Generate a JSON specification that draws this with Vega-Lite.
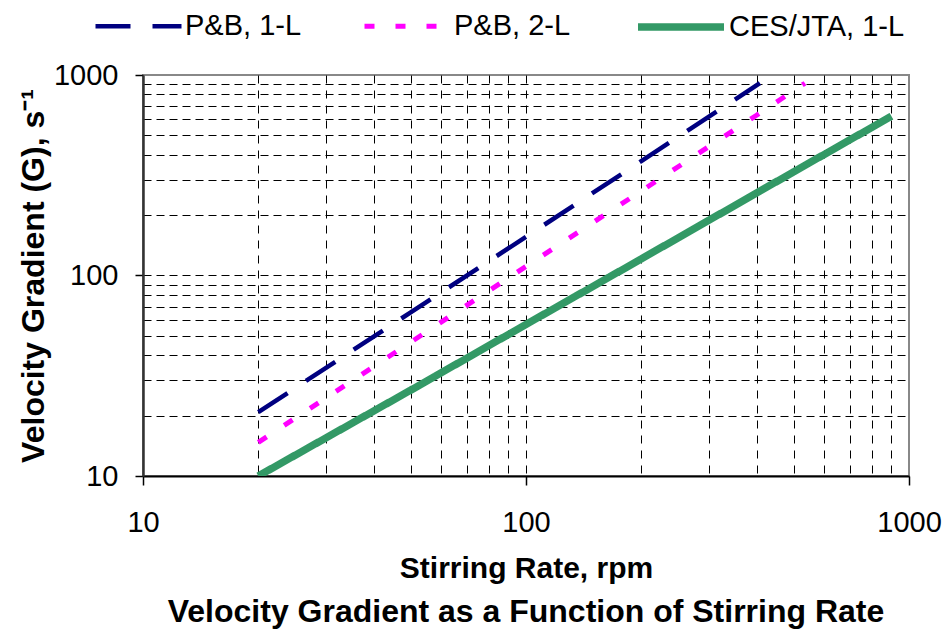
{
  "$schema": "https://vega.github.io/schema/vega-lite/v6.json",
  "width": 766,
  "height": 401,
  "autosize": {"type": "none"},
  "padding": {"left": 143, "top": 75, "right": 40, "bottom": 157},
  "background": "white",
  "title": {
    "text": "Velocity Gradient as a Function of Stirring Rate",
    "orient": "bottom",
    "anchor": "middle",
    "frame": "group",
    "font": "Liberation Sans",
    "fontSize": 32,
    "fontWeight": "bold",
    "color": "black",
    "offset": 14
  },
  "config": {
    "font": "Liberation Sans",
    "view": {"stroke": "#888888", "strokeWidth": 2},
    "legend": {
      "orient": "none",
      "direction": "horizontal",
      "legendX": -50,
      "legendY": -95,
      "symbolType": "stroke",
      "symbolSize": 7396,
      "labelFontSize": 29,
      "labelFont": "Liberation Sans",
      "labelColor": "black",
      "labelOffset": 1,
      "columnPadding": 52,
      "labelLimit": 400,
      "padding": 0
    }
  },
  "data": {
    "values": [
      {"series": "P&B, 1-L", "rpm": 20, "G": 20.8},
      {"series": "P&B, 1-L", "rpm": 50, "G": 65.5},
      {"series": "P&B, 1-L", "rpm": 100, "G": 156},
      {"series": "P&B, 1-L", "rpm": 200, "G": 372},
      {"series": "P&B, 1-L", "rpm": 408, "G": 910},
      {"series": "P&B, 2-L", "rpm": 20, "G": 14.7},
      {"series": "P&B, 2-L", "rpm": 50, "G": 46.5},
      {"series": "P&B, 2-L", "rpm": 100, "G": 111},
      {"series": "P&B, 2-L", "rpm": 200, "G": 264},
      {"series": "P&B, 2-L", "rpm": 400, "G": 630},
      {"series": "P&B, 2-L", "rpm": 535, "G": 910},
      {"series": "CES/JTA, 1-L", "rpm": 20, "G": 10},
      {"series": "CES/JTA, 1-L", "rpm": 50, "G": 26.8},
      {"series": "CES/JTA, 1-L", "rpm": 100, "G": 57},
      {"series": "CES/JTA, 1-L", "rpm": 200, "G": 121},
      {"series": "CES/JTA, 1-L", "rpm": 500, "G": 329},
      {"series": "CES/JTA, 1-L", "rpm": 900, "G": 623}
    ]
  },
  "mark": {"type": "line", "strokeCap": "butt", "clip": true},
  "encoding": {
    "x": {
      "field": "rpm",
      "type": "quantitative",
      "scale": {"type": "log", "domain": [10, 1000], "nice": false},
      "axis": {
        "values": [10, 20, 30, 40, 50, 60, 70, 80, 90, 100, 200, 300, 400, 500, 600, 700, 800, 900, 1000],
        "labelExpr": "(datum.value==10||datum.value==100||datum.value==1000) ? ''+datum.value : ''",
        "title": "Stirring Rate, rpm",
        "titleFontSize": 30,
        "titleFontWeight": "bold",
        "titleColor": "black",
        "titleBaseline": "alphabetic",
        "titleY": 101,
        "labelFontSize": 29,
        "labelColor": "black",
        "labelPadding": 23,
        "labelFlush": false,
        "labelOverlap": false,
        "labelBound": false,
        "tickSize": 9,
        "tickColor": "black",
        "tickWidth": 1.5,
        "tickOpacity": {"condition": {"test": "datum.value==10||datum.value==100||datum.value==1000", "value": 1}, "value": 0},
        "domainColor": "black",
        "domainWidth": 2,
        "grid": true,
        "gridColor": "black",
        "gridDash": [8, 7],
        "gridWidth": 1,
        "gridOpacity": {"condition": {"test": "datum.value==10||datum.value==1000", "value": 0}, "value": 1}
      }
    },
    "y": {
      "field": "G",
      "type": "quantitative",
      "scale": {"type": "log", "domain": [10, 1000], "nice": false},
      "axis": {
        "values": [10, 20, 30, 40, 50, 60, 70, 80, 90, 100, 200, 300, 400, 500, 600, 700, 800, 900, 1000],
        "labelExpr": "(datum.value==10||datum.value==100||datum.value==1000) ? ''+datum.value : ''",
        "title": "Velocity Gradient (G), s⁻¹",
        "titleFontSize": 32,
        "titleFontWeight": "bold",
        "titleColor": "black",
        "titleBaseline": "alphabetic",
        "titleAngle": 270,
        "titleAlign": "center",
        "titleX": -100,
        "titleY": 200.5,
        "labelFontSize": 29,
        "labelColor": "black",
        "labelPadding": 17,
        "labelOverlap": false,
        "labelBound": false,
        "labelFlush": false,
        "tickSize": 8,
        "tickColor": "black",
        "tickWidth": 1.5,
        "tickOpacity": {"condition": {"test": "datum.value==10||datum.value==100||datum.value==1000", "value": 1}, "value": 0},
        "domainColor": "#333333",
        "domainWidth": 2.5,
        "grid": true,
        "gridColor": "black",
        "gridDash": [8, 5],
        "gridWidth": 1,
        "gridOpacity": {"condition": {"test": "datum.value==10||datum.value==1000", "value": 0}, "value": 1}
      }
    },
    "color": {
      "field": "series",
      "type": "nominal",
      "scale": {"domain": ["P&B, 1-L", "P&B, 2-L", "CES/JTA, 1-L"], "range": ["#000080", "#FF00FF", "#339966"]},
      "legend": {"title": null}
    },
    "strokeDash": {
      "field": "series",
      "type": "nominal",
      "scale": {"domain": ["P&B, 1-L", "P&B, 2-L", "CES/JTA, 1-L"], "range": [[35, 22], [10, 21], [1, 0]]},
      "legend": {"title": null}
    },
    "strokeWidth": {
      "field": "series",
      "type": "nominal",
      "scale": {"type": "ordinal", "domain": ["P&B, 1-L", "P&B, 2-L", "CES/JTA, 1-L"], "range": [4.5, 5, 7.5]},
      "legend": {"title": null}
    }
  }
}
